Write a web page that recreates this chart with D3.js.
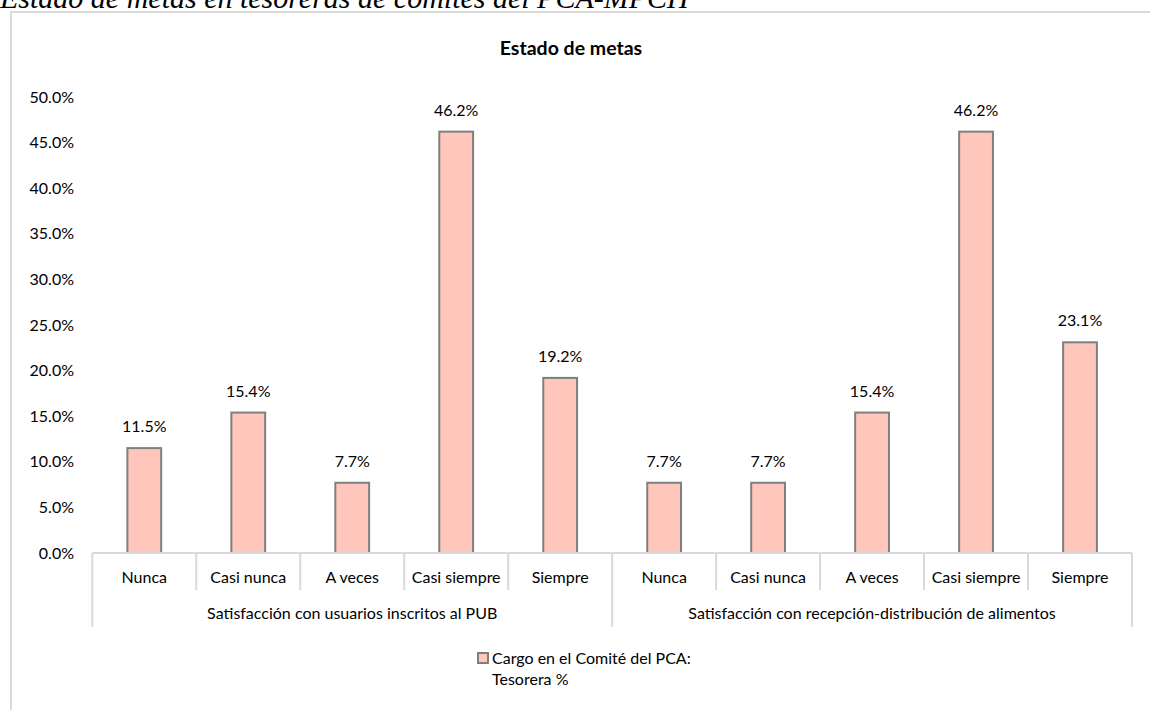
<!DOCTYPE html>
<html>
<head>
<meta charset="utf-8">
<script src="https://cdn.jsdelivr.net/npm/d3@7"></script>
<style>
  html, body { margin: 0; padding: 0; background: #fff; }
  svg { display: block; }
</style>
</head>
<body>
<svg id="chart" width="1150" height="710"></svg>
<script>
// Response levels and the two survey items they were asked for
const levels = ["Nunca", "Casi nunca", "A veces", "Casi siempre", "Siempre"];
const groups = [
  "Satisfacción con usuarios inscritos al PUB",
  "Satisfacción con recepción-distribución de alimentos"
];
// Percentage of treasurers per level
const usuariosPUB = [11.5, 15.4, 7.7, 46.2, 19.2];
const recepcionAlimentos = [7.7, 7.7, 15.4, 46.2, 23.1];
const yTicks = [0, 5, 10, 15, 20, 25, 30, 35, 40, 45, 50];

const seriesName = ["Cargo en el Comité del PCA:", "Tesorera %"];
const chartTitle = "Estado de metas";
const caption = "Estado de metas en tesoreras de comités del PCA-MPCH";

const rows = [];
[usuariosPUB, recepcionAlimentos].forEach((vals, g) => {
  vals.forEach((v, i) => rows.push({ key: g + "|" + i, group: g, level: levels[i], value: v }));
});

const svg = d3.select("#chart");
const font = "Lato, 'Open Sans', sans-serif";
const fs = 16;
const gridGray = "#d9d9d9";

// Caption above the chart frame (partly clipped at the top)
svg.append("text")
  .attr("x", 0).attr("y", 8)
  .attr("font-family", "'Liberation Serif', 'Times New Roman', serif")
  .attr("font-style", "italic")
  .attr("font-size", 30)
  .attr("fill", "#000")
  .text(caption);

// Chart frame
svg.append("rect")
  .attr("x", 11).attr("y", 12)
  .attr("width", 1160).attr("height", 720)
  .attr("fill", "#fff")
  .attr("stroke", gridGray).attr("stroke-width", 2);

svg.append("text")
  .attr("x", 571).attr("y", 55)
  .attr("text-anchor", "middle")
  .attr("font-family", font)
  .attr("font-weight", "bold")
  .attr("font-size", 19.5)
  .attr("fill", "#000")
  .text(chartTitle);

const left = 92.3, right = 1132, y0 = 553, yTop = 97;

const x = d3.scaleBand().domain(rows.map(d => d.key)).range([left, right]).padding(0);
const y = d3.scaleLinear().domain([0, 50]).range([y0, yTop]);
const barW = x.bandwidth() * 0.325;

// Y axis labels (no axis line, no gridlines)
const yAxis = d3.axisLeft(y).tickValues(yTicks).tickSize(0).tickPadding(0)
  .tickFormat(d => d3.format(".1f")(d) + "%");
const yg = svg.append("g").attr("transform", "translate(74,0)").call(yAxis);
yg.select(".domain").remove();
yg.selectAll("text").attr("font-family", font).attr("font-size", fs).attr("fill", "#000");

// Bars
svg.append("g").selectAll("rect").data(rows).join("rect")
  .attr("x", d => x(d.key) + (x.bandwidth() - barW) / 2)
  .attr("y", d => y(d.value))
  .attr("width", barW)
  .attr("height", d => y(0) - y(d.value))
  .attr("fill", "#ffc7bc")
  .attr("stroke", "#7f7f7f")
  .attr("stroke-width", 2);

// Value labels
svg.append("g").selectAll("text").data(rows).join("text")
  .attr("x", d => x(d.key) + x.bandwidth() / 2)
  .attr("y", d => y(d.value) - 16)
  .attr("text-anchor", "middle")
  .attr("font-family", font).attr("font-size", fs).attr("fill", "#000")
  .text(d => d3.format(".1f")(d.value) + "%");

// Category axis: baseline and dividers
const axisG = svg.append("g").attr("stroke", gridGray).attr("stroke-width", 2);
axisG.append("line").attr("x1", left).attr("x2", right).attr("y1", y0).attr("y2", y0);
rows.forEach((d, i) => {
  if (i === 0) return;
  const xx = x(d.key);
  const isGroupEdge = d.level === levels[0];
  axisG.append("line").attr("x1", xx).attr("x2", xx)
    .attr("y1", y0).attr("y2", isGroupEdge ? 627 : 590);
});
[left, right].forEach(xx => {
  axisG.append("line").attr("x1", xx).attr("x2", xx).attr("y1", y0).attr("y2", 627);
});

svg.append("g").selectAll("text").data(rows).join("text")
  .attr("x", d => x(d.key) + x.bandwidth() / 2)
  .attr("y", 583)
  .attr("text-anchor", "middle")
  .attr("font-family", font).attr("font-size", fs).attr("fill", "#000")
  .text(d => d.level);

svg.append("g").selectAll("text").data(groups).join("text")
  .attr("x", (d, g) => {
    const a = x(g + "|0"), b = x(g + "|" + (levels.length - 1)) + x.bandwidth();
    return (a + b) / 2;
  })
  .attr("y", 619)
  .attr("text-anchor", "middle")
  .attr("font-family", font).attr("font-size", fs).attr("fill", "#000")
  .text(d => d);

// Legend
const lg = svg.append("g");
lg.append("rect")
  .attr("x", 478).attr("y", 653).attr("width", 10).attr("height", 10)
  .attr("fill", "#ffc7bc").attr("stroke", "#7f7f7f").attr("stroke-width", 2);
lg.selectAll("text").data(seriesName).join("text")
  .attr("x", 492).attr("y", (d, i) => 664 + i * 21)
  .attr("font-family", font).attr("font-size", fs).attr("fill", "#000")
  .text(d => d);
</script>
</body>
</html>
